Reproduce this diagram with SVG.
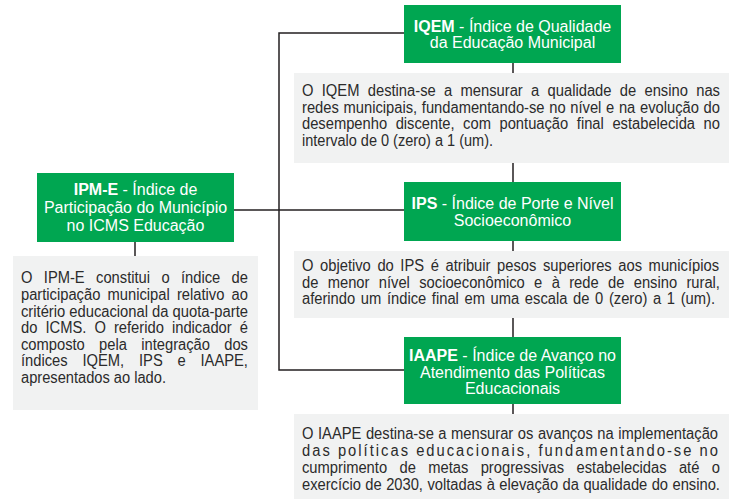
<svg xmlns="http://www.w3.org/2000/svg" width="735" height="499" viewBox="0 0 735 499">
<style>
.hd{fill:#00a651}
.ds{fill:#f1f2f2}
.ht{font-family:"Liberation Sans",Arial,sans-serif;font-size:16px;fill:#ffffff;text-anchor:middle}
.ht .b{font-weight:bold}
.dt{font-family:"Liberation Sans",Arial,sans-serif;font-size:16px;fill:#2b2b2b}
.cn{fill:none;stroke:#231f20;stroke-width:1.5}
</style>
<rect x="0" y="0" width="735" height="499" fill="#ffffff"/>
<g id="connectors">
<path class="cn" d="M234,210 H404"/>
<path class="cn" d="M404,33 H279 V370 H404"/>
<path class="cn" d="M135,242 V256"/>
<path class="cn" d="M513,63 V414"/>
</g>
<g id="ipme">
<rect class="hd" x="37" y="173" width="197" height="69"/>
<text class="ht" x="135.5" y="195"><tspan class="b">IPM-E</tspan> - Índice de</text>
<text class="ht" x="135.5" y="213">Participação do Município</text>
<text class="ht" x="135.5" y="231">no ICMS Educação</text>
</g>
<g id="ipme-desc">
<rect class="ds" x="13" y="256" width="245" height="154"/>
<g transform="translate(21,0) scale(0.92,1)">
<text class="dt" x="0" y="283" textLength="246.7" lengthAdjust="spacingAndGlyphs" word-spacing="7.9">O IPM-E constitui o índice de</text>
<text class="dt" x="0" y="300" textLength="246.7" lengthAdjust="spacingAndGlyphs" word-spacing="3.4">participação municipal relativo ao</text>
<text class="dt" x="0" y="317" textLength="246.7" lengthAdjust="spacingAndGlyphs">critério educacional da quota-parte</text>
<text class="dt" x="0" y="333" textLength="246.7" lengthAdjust="spacingAndGlyphs" word-spacing="4.3">do ICMS. O referido indicador é</text>
<text class="dt" x="0" y="350" textLength="246.7" lengthAdjust="spacingAndGlyphs" word-spacing="11.1">composto pela integração dos</text>
<text class="dt" x="0" y="366" textLength="246.7" lengthAdjust="spacingAndGlyphs" word-spacing="11.6">índices IQEM, IPS e IAAPE,</text>
<text class="dt" x="0" y="383" textLength="157.6" lengthAdjust="spacingAndGlyphs">apresentados ao lado.</text>
</g>
</g>
<g id="iqem">
<rect class="hd" x="404" y="5" width="217" height="58"/>
<text class="ht" x="512.5" y="32"><tspan class="b">IQEM</tspan> - Índice de Qualidade</text>
<text class="ht" x="512.5" y="48">da Educação Municipal</text>
</g>
<g id="iqem-desc">
<rect class="ds" x="294" y="73" width="435" height="90"/>
<g transform="translate(302,0) scale(0.92,1)">
<text class="dt" x="0" y="96" textLength="454.3" lengthAdjust="spacingAndGlyphs" word-spacing="4.6">O IQEM destina-se a mensurar a qualidade de ensino nas</text>
<text class="dt" x="0" y="113" textLength="454.3" lengthAdjust="spacingAndGlyphs" word-spacing="0.65">redes municipais, fundamentando-se no nível e na evolução do</text>
<text class="dt" x="0" y="129" textLength="454.3" lengthAdjust="spacingAndGlyphs" word-spacing="4.9">desempenho discente, com pontuação final estabelecida no</text>
<text class="dt" x="0" y="146" textLength="207.6" lengthAdjust="spacingAndGlyphs">intervalo de 0 (zero) a 1 (um).</text>
</g>
</g>
<g id="ips">
<rect class="hd" x="404" y="182" width="217" height="59"/>
<text class="ht" x="512.5" y="209"><tspan class="b">IPS</tspan> - Índice de Porte e Nível</text>
<text class="ht" x="512.5" y="226">Socioeconômico</text>
</g>
<g id="ips-desc">
<rect class="ds" x="294" y="251" width="435" height="67"/>
<g transform="translate(302,0) scale(0.92,1)">
<text class="dt" x="0" y="271" textLength="453.3" lengthAdjust="spacingAndGlyphs" word-spacing="2.7">O objetivo do IPS é atribuir pesos superiores aos municípios</text>
<text class="dt" x="0" y="288" textLength="454.3" lengthAdjust="spacingAndGlyphs" word-spacing="5.7">de menor nível socioeconômico e à rede de ensino rural,</text>
<text class="dt" x="0" y="304" textLength="448.9" lengthAdjust="spacingAndGlyphs" word-spacing="1.7">aferindo um índice final em uma escala de 0 (zero) a 1 (um).</text>
</g>
</g>
<g id="iaape">
<rect class="hd" x="404" y="337" width="217" height="67"/>
<text class="ht" x="512.5" y="361"><tspan class="b">IAAPE</tspan> - Índice de Avanço no</text>
<text class="ht" x="512.5" y="378">Atendimento das Políticas</text>
<text class="ht" x="512.5" y="394">Educacionais</text>
</g>
<g id="iaape-desc">
<rect class="ds" x="294" y="414" width="435" height="85"/>
<g transform="translate(302,0) scale(0.92,1)">
<text class="dt" x="0" y="439" textLength="452.2" lengthAdjust="spacingAndGlyphs" word-spacing="0.5">O IAAPE destina-se a mensurar os avanços na implementação</text>
<text class="dt" x="0" y="456" textLength="454.3" lengthAdjust="spacingAndGlyphs" letter-spacing="2.2">das políticas educacionais, fundamentando-se no</text>
<text class="dt" x="0" y="473" textLength="454.3" lengthAdjust="spacingAndGlyphs" word-spacing="9">cumprimento de metas progressivas estabelecidas até o</text>
<text class="dt" x="0" y="490" textLength="454.3" lengthAdjust="spacingAndGlyphs" word-spacing="0.4">exercício de 2030, voltadas à elevação da qualidade do ensino.</text>
</g>
</g>
</svg>
